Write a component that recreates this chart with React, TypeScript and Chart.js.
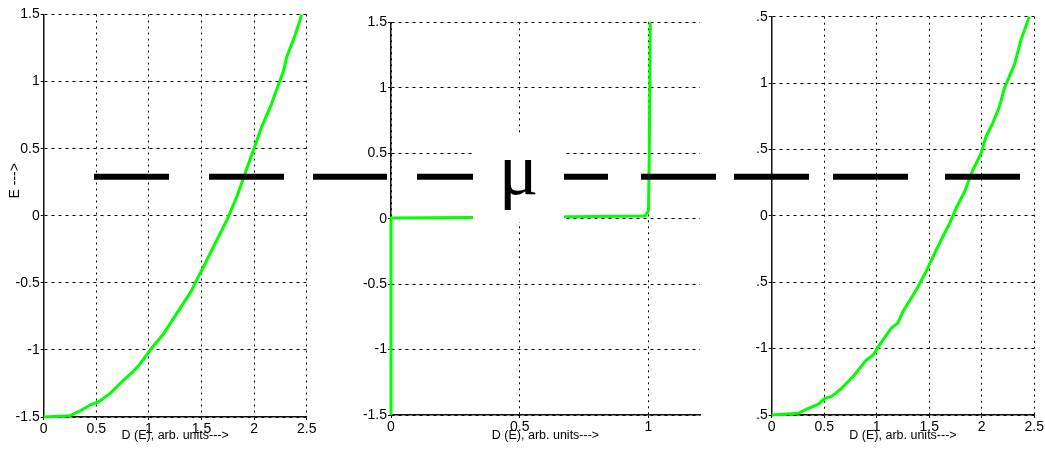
import React, { useEffect, useRef } from "react";
import { Chart, registerables } from "chart.js";

Chart.register(...registerables);

// ---------- text ----------
const X_TITLE = "D (E), arb. units--->";
const Y_TITLE = "E --->";
const MU_LABEL = "μ";

// ---------- data ----------
// left panel: D(E) vs E
const D1 = [0, 0.25, 0.345, 0.44, 0.52, 0.63, 0.757, 0.852, 0.9, 1.01, 1.14, 1.264, 1.407, 1.44, 1.518, 1.613, 1.74, 1.835, 1.914, 1.993, 2.072, 2.167, 2.247, 2.28, 2.31, 2.373, 2.437, 2.45];
const E1 = [-1.5, -1.49, -1.455, -1.41, -1.388, -1.326, -1.227, -1.16, -1.12, -1.003, -0.879, -0.73, -0.556, -0.5, -0.382, -0.233, -0.034, 0.14, 0.314, 0.488, 0.662, 0.836, 1.01, 1.08, 1.184, 1.309, 1.458, 1.5];

// middle panel: step
const D2 = [0, 0, 0.5, 0.985, 1.0, 1.003, 1.007];
const E2 = [-1.5, 0.005, 0.01, 0.02, 0.06, 0.5, 1.5];

// right panel
const D3 = [0, 0.253, 0.348, 0.443, 0.506, 0.57, 0.665, 0.775, 0.902, 0.965, 1.028, 1.139, 1.2, 1.25, 1.377, 1.47, 1.535, 1.614, 1.693, 1.756, 1.835, 1.915, 1.994, 2.04, 2.104, 2.168, 2.215, 2.263, 2.31, 2.373, 2.453];
const E3 = [-1.5, -1.487, -1.45, -1.42, -1.375, -1.36, -1.3, -1.21, -1.085, -1.05, -0.97, -0.845, -0.81, -0.72, -0.557, -0.42, -0.31, -0.18, -0.06, 0.057, 0.18, 0.345, 0.47, 0.596, 0.697, 0.822, 0.96, 1.05, 1.136, 1.324, 1.5];

const E_MIN = -1.5;
const E_MAX = 1.5;
const E_STEP = 0.5;
const D_STEP = 0.5;
const D_MAX_SIDE = 2.5;
const D_MAX_MID = 1.2;

// chemical potential line (E level, in left-panel units) and its dash segments (figure x units)
const MU_LEVEL = 0.29;
const MU_SEGMENTS: [number, number][] = [
  [94, 169], [209, 284], [313, 387], [417, 473], [564, 608],
  [641, 716], [734, 809], [833, 908], [945, 1020],
];

// ---------- styles ----------
const SANS = "'Liberation Sans', Arial, Helvetica, sans-serif";
const GREEN = "#00ff00";
const fmt = (v: number) => String(Math.round(v * 10) / 10);

type PanelProps = {
  left: number;
  width: number;
  D: number[];
  E: number[];
  xMax: number;
  padTop: number;
  padRight: number;
  yWidth: number;
  xHeight: number;
  yTitle?: boolean;
};

function Panel(p: PanelProps) {
  const ref = useRef<HTMLCanvasElement | null>(null);
  useEffect(() => {
    if (!ref.current) return;
    const chart = new Chart(ref.current, {
      type: "scatter",
      data: {
        datasets: [
          {
            data: p.D.map((d, i) => ({ x: d, y: p.E[i] })),
            showLine: true,
            borderColor: GREEN,
            backgroundColor: GREEN,
            borderWidth: 3,
            pointRadius: 0,
            tension: 0,
            borderJoinStyle: "round",
            clip: 4,
          },
        ],
      },
      options: {
        animation: false,
        responsive: false,
        devicePixelRatio: 1,
        layout: { padding: { left: 0, top: p.padTop, right: p.padRight, bottom: 0 } },
        plugins: { legend: { display: false }, tooltip: { enabled: false } },
        scales: {
          x: {
            type: "linear",
            min: 0,
            max: p.xMax,
            afterFit: (s: any) => {
              s.height = p.xHeight;
            },
            ticks: {
              stepSize: D_STEP,
              includeBounds: false,
              autoSkip: false,
              maxRotation: 0,
              padding: 1,
              color: "#000",
              font: { family: SANS, size: 14 },
              callback: (v: any) => fmt(Number(v)),
            },
            grid: {
              color: "#000",
              lineWidth: 1,
              drawTicks: true,
              tickLength: 3,
              tickColor: "#000",
              tickBorderDash: [],
            },
            border: { display: true, color: "#111", width: 1.5, dash: [2, 4] },
            title: {
              display: true,
              text: X_TITLE,
              color: "#000",
              font: { family: SANS, size: 12.5 },
              padding: { top: 0, bottom: 7 },
            },
          },
          y: {
            type: "linear",
            min: E_MIN,
            max: E_MAX,
            afterFit: (s: any) => {
              s.width = p.yWidth;
            },
            ticks: {
              stepSize: E_STEP,
              autoSkip: false,
              padding: 1,
              color: "#000",
              font: { family: SANS, size: 14 },
              callback: (v: any) => fmt(Number(v)),
            },
            grid: {
              color: "#000",
              lineWidth: 1,
              drawTicks: true,
              tickLength: 3,
              tickColor: "#000",
              tickBorderDash: [],
            },
            border: { display: true, color: "#111", width: 1.5, dash: [3, 4] },
            title: {
              display: !!p.yTitle,
              text: " ".repeat(18) + Y_TITLE,
              color: "#000",
              font: { family: SANS, size: 14 },
              padding: { top: 7, bottom: 0 },
            },
          },
        },
      },
    } as any);
    return () => chart.destroy();
  }, []);
  return (
    <canvas
      ref={ref}
      width={p.width}
      height={450}
      style={{ position: "absolute", left: p.left, top: 0, width: p.width, height: 450 }}
    />
  );
}

function MuLine() {
  const ref = useRef<HTMLCanvasElement | null>(null);
  useEffect(() => {
    if (!ref.current) return;
    const chart = new Chart(ref.current, {
      type: "scatter",
      data: {
        datasets: MU_SEGMENTS.map(([a, b]) => ({
          data: [
            { x: a, y: MU_LEVEL },
            { x: b, y: MU_LEVEL },
          ],
          showLine: true,
          borderColor: "#000",
          borderWidth: 6,
          borderCapStyle: "butt",
          pointRadius: 0,
        })),
      },
      options: {
        animation: false,
        responsive: false,
        devicePixelRatio: 1,
        layout: { padding: { left: 0, right: 0, top: 14.5, bottom: 33 } },
        plugins: { legend: { display: false }, tooltip: { enabled: false } },
        scales: {
          x: { type: "linear", min: 0, max: 1045, display: false },
          y: { type: "linear", min: E_MIN, max: E_MAX, display: false },
        },
      },
    } as any);
    return () => chart.destroy();
  }, []);
  return (
    <canvas
      ref={ref}
      width={1045}
      height={450}
      style={{ position: "absolute", left: 0, top: 0, width: 1045, height: 450, pointerEvents: "none" }}
    />
  );
}

export default function App() {
  return (
    <div
      style={{
        position: "absolute",
        left: 0,
        top: 0,
        width: 1045,
        height: 450,
        background: "#fff",
        overflow: "hidden",
      }}
    >
      <Panel left={0} width={320} D={D1} E={E1} xMax={D_MAX_SIDE} padTop={14.5} padRight={13.3} yWidth={43.7} xHeight={33} yTitle />
      <Panel left={330} width={390} D={D2} E={E2} xMax={D_MAX_MID} padTop={22.3} padRight={20} yWidth={61} xHeight={35} />
      <Panel left={756} width={289} D={D3} E={E3} xMax={D_MAX_SIDE} padTop={16.7} padRight={10} yWidth={15.7} xHeight={35} />
      <MuLine />
      <div
        style={{
          position: "absolute",
          left: 473,
          top: 135,
          width: 91,
          height: 87,
          background: "#fff",
        }}
      >
        <span
          style={{
            position: "absolute",
            left: 0,
            top: -3,
            width: 91,
            textAlign: "center",
            fontFamily: "'Liberation Serif', 'Times New Roman', serif",
            fontSize: 74,
            lineHeight: "74px",
            color: "#000",
          }}
        >
          {MU_LABEL}
        </span>
      </div>
    </div>
  );
}
